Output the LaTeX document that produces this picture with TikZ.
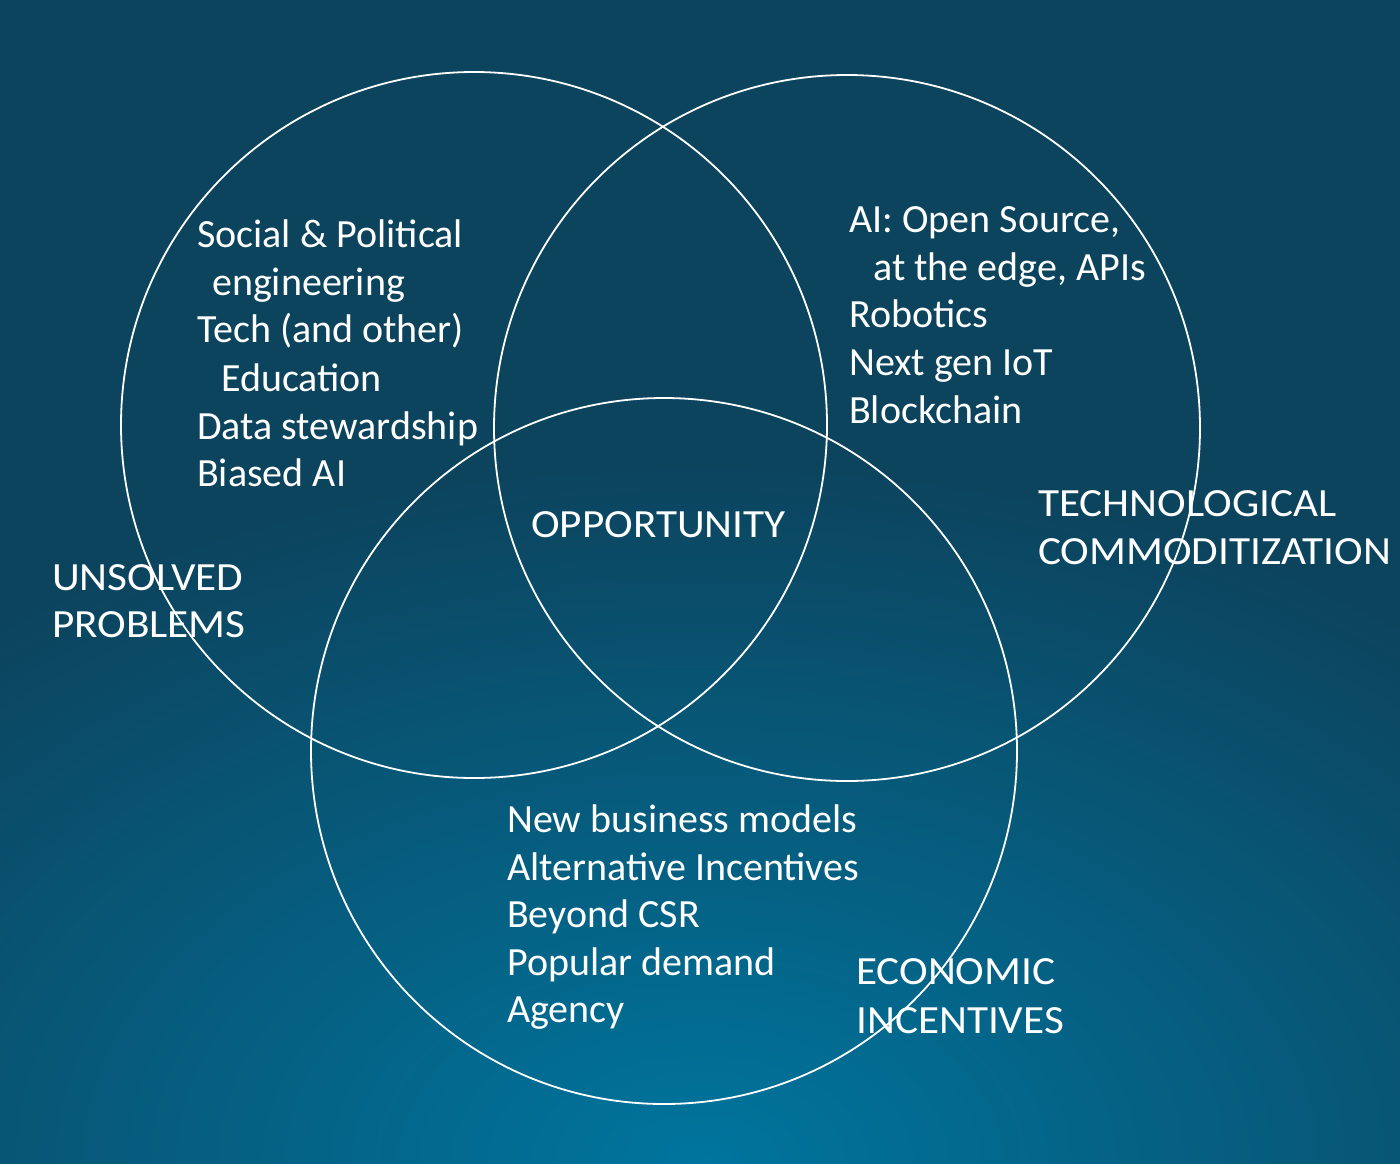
\documentclass[tikz,border=0pt]{standalone}
\usepackage{fontspec}
\setmainfont{Carlito}
\definecolor{bgB}{RGB}{0,117,158}
\definecolor{bgD}{RGB}{12,68,94}
\pgfdeclareradialshading{bgshade}{\pgfpoint{0bp}{0bp}}{color(0bp)=(bgB); color(25bp)=(bgD); color(50bp)=(bgD)}
\tikzset{
  venn/.style={circle, draw=white, line width=1.8pt, minimum size=706pt, inner sep=0pt, outer sep=0pt},
  txt/.style={anchor=base west, text=white, inner sep=0pt, font=\fontsize{40}{48}\selectfont},
  caps/.style={txt, font=\fontsize{40}{48}\selectfont\addfontfeature{FakeStretch=1.08}}
}
\begin{document}
\begin{tikzpicture}[x=1pt,y=-1pt]
\useasboundingbox (0,0) rectangle (1400,1163);
\begin{scope}
\clip (0,0) rectangle (1400,1163);
\fill[bgD] (0,0) rectangle (1400,1163);
\shade[shading=bgshade] (700,1163) ellipse[x radius=1100pt, y radius=700pt];
\end{scope}
\node[venn] (unsolved) at (474,425) {};
\node[venn] (tech) at (847,428) {};
\node[venn] (econ) at (664,751) {};
% left block
\node[txt] (l1) at (197,247) {Social \& Political};
\node[txt] (l2) at (212,295) {engineering};
\node[txt] (l3) at (197,342) {Tech (and other)};
\node[txt] (l4) at (221,391) {Education};
\node[txt] (l5) at (197,439) {Data stewardship};
\node[txt] (l6) at (197,486) {Biased AI};
% right block
\node[txt] (r1) at (849,232) {AI: Open Source,};
\node[txt] (r2) at (873,280) {at the edge, APIs};
\node[txt] (r3) at (849,327) {Robotics};
\node[txt] (r4) at (849,375) {Next gen IoT};
\node[txt] (r5) at (849,423) {Blockchain};
% bottom block
\node[txt] (b1) at (507,832) {New business models};
\node[txt] (b2) at (507,880) {Alternative Incentives};
\node[txt] (b3) at (507,927) {Beyond CSR};
\node[txt] (b4) at (507,975) {Popular demand};
\node[txt] (b5) at (507,1022) {Agency};
% labels
\node[caps] (opp) at (531,537) {OPPORTUNITY};
\node[caps] (t1) at (1038,516) {TECHNOLOGICAL};
\node[caps] (t2) at (1038,564) {COMMODITIZATION};
\node[caps] (u1) at (52,590) {UNSOLVED};
\node[caps] (u2) at (52,637) {PROBLEMS};
\node[caps] (e1) at (856,984) {ECONOMIC};
\node[caps] (e2) at (856,1033) {INCENTIVES};
\end{tikzpicture}
\end{document}
